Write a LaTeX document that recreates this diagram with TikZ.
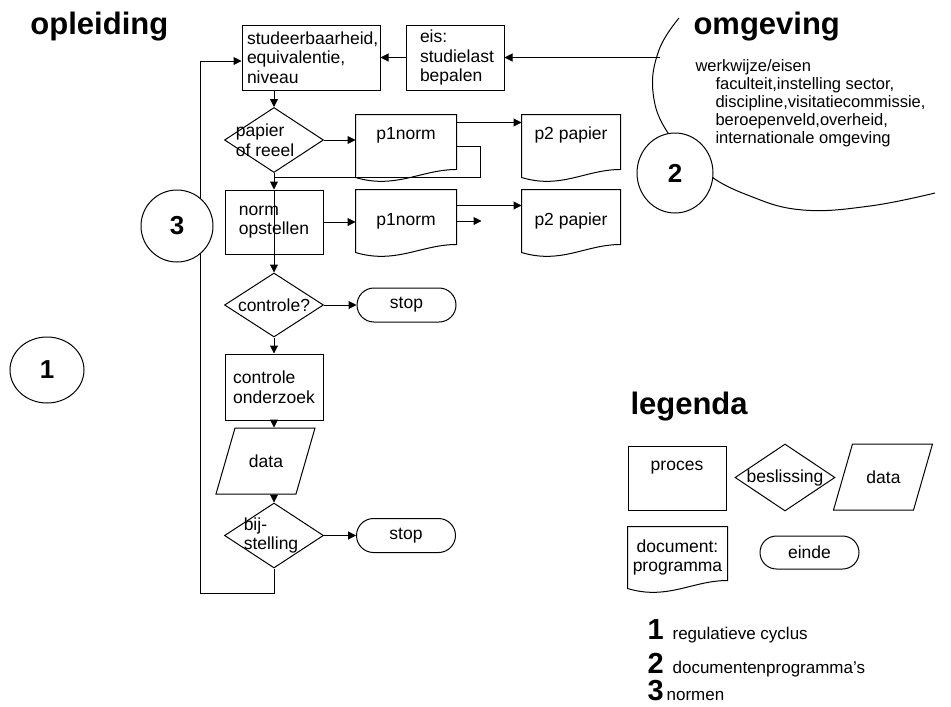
\documentclass[tikz,border=0pt]{standalone}
\usepackage{fontspec}
\setmainfont{Liberation Sans}
\usepackage{tikz}
\usetikzlibrary{shapes,arrows.meta,positioning,calc}

\newcommand{\docframe}[1]{%
  \draw (#1.north west) -- (#1.north east) -- ($(#1.south east)+(0,-8)$)
    .. controls +(-35,0) and +(40,12) .. (#1.south west) -- cycle;}
\newcommand{\dataframe}[1]{%
  \draw ($(#1)+(-31,-33)$) -- ($(#1)+(49,-33)$) -- ($(#1)+(30,33)$) -- ($(#1)+(-50,33)$) -- cycle;}

\begin{document}
\begin{tikzpicture}[
    x=1pt, y=-1pt, line width=1pt,
    txt/.style={font=\fontsize{17.5}{19.5}\selectfont},
    proc/.style={rectangle, draw, txt, minimum width=98pt, minimum height=65pt, align=left, inner sep=0pt},
    dec/.style={diamond, draw, minimum width=99pt, minimum height=65pt, inner sep=0pt},
    docbox/.style={rectangle, txt, minimum width=100pt, minimum height=62pt, align=center, inner sep=0pt},
    databox/.style={rectangle, txt, minimum width=60pt, minimum height=66pt, inner sep=0pt},
    term/.style={rounded rectangle, draw, txt, minimum width=99pt, minimum height=34pt, inner sep=0pt},
    numcirc/.style={ellipse, draw, fill=white, inner sep=0pt, font=\bfseries\fontsize{26}{26}\selectfont},
    heading/.style={anchor=base west, inner sep=0pt, font=\bfseries\fontsize{31}{31}\selectfont},
    arrow/.style={-{Triangle[length=8pt,width=8pt]}}
]
\useasboundingbox (0,0) rectangle (951,707);

\node[heading] (opl) at (30,34) {opleiding};
\node[heading] (omg) at (693,34) {omgeving};
\node[heading] (leg) at (630,414) {legenda};

\node[anchor=north west, align=left, inner sep=0pt, font=\fontsize{16.5}{18}\selectfont] (omglist) at (695,59)
  {werkwijze/eisen\\
   \hspace*{20pt}faculteit,instelling sector,\\
   \hspace*{20pt}discipline,visitatiecommissie,\\
   \hspace*{20pt}beroepenveld,overheid,\\
   \hspace*{20pt}internationale omgeving};

\node[proc, minimum width=138pt, text width=128pt] (stud) at (311,57.5) {studeerbaarheid,\\equivalentie,\\niveau};
\node[proc, text width=70pt] (eis) at (455,57.5) {eis:\\studielast\\bepalen};
\node[dec, label={[txt, align=left, xshift=-9pt]center:papier\\of reeel}] (pap) at (274,140) {};
\node[docbox] (p1a) at (406,146) {p1norm\\\strut};
\node[docbox, minimum width=98pt] (p2a) at (571,146) {p2 papier\\\strut};
\node[proc, minimum height=64pt] (norm) at (274,222) {norm\\opstellen};
\node[docbox] (p1b) at (406,221) {p1norm};
\node[docbox, minimum width=98pt] (p2b) at (571,221) {p2 papier};
\coordinate[right=25pt of p1b.east] (p1bend);
\node[dec, minimum height=64pt, label={[txt]center:controle?}] (ctl) at (274,305) {};
\node[term] (stop1) at (406.5,305) {stop\hspace{12pt}};
\node[proc, minimum height=66pt] (onz) at (274,387) {controle\\onderzoek};
\node[databox] (dat) at (266,461) {data};
\node[dec, label={[txt, align=left, xshift=-3pt]center:bij-\\stelling}] (bij) at (274,535.5) {};
\node[term] (stop2) at (406,535.5) {stop\hspace{29pt}};
\coordinate (loopc) at (200,593);
\coordinate (omgpt) at (660,57.5);

\node[proc, minimum height=64pt] (lproc) at (677,478) {proces\\\strut};
\node[dec, minimum width=100pt, minimum height=67pt, label={[txt]center:beslissing}] (ldec) at (785,477.5) {};
\node[databox] (ldat) at (883.5,477) {data};
\node[docbox, minimum width=99pt, minimum height=61pt] (ldoc) at (677.5,557.5) {document:\\programma};
\node[term, minimum height=33pt] (lend) at (809.5,552.5) {einde\hspace{7pt}};

\node[anchor=base west, inner sep=0pt] (leg1) at (647,639)
  {\bfseries\fontsize{29}{29}\selectfont 1\hspace{9pt}\mdseries\fontsize{17}{19}\selectfont regulatieve cyclus};
\node[anchor=base west, inner sep=0pt] (leg2) at (647,673)
  {\bfseries\fontsize{29}{29}\selectfont 2\hspace{9pt}\mdseries\fontsize{17}{19}\selectfont documentenprogramma's};
\node[anchor=base west, inner sep=0pt] (leg3) at (647,700)
  {\bfseries\fontsize{29}{29}\selectfont 3\hspace{3pt}\mdseries\fontsize{17}{19}\selectfont normen};

\docframe{p1a}
\docframe{p2a}
\docframe{p1b}
\docframe{p2b}
\docframe{ldoc}
\dataframe{dat}
\dataframe{ldat}

\draw[arrow] (omgpt) -- (eis);
\draw[arrow] (eis) -- (stud);
\draw[arrow] (stud.south -| pap.north) -- (pap.north);
\draw[arrow] (pap.east) -- (pap.east -| p1a.west);
\draw[arrow] ($(p1a.north east)+(0,8)$) coordinate (p1top) -- (p1top -| p2a.west);
\draw (p1a.east) -- ++(24,0) |- ($(pap.south)+(0,4)$);
\draw[arrow] (pap.south) -- (norm.north);
\draw[arrow] (norm.north) -- (ctl.north);
\draw[arrow] (norm.east) -- (norm.east -| p1b.west);
\draw[arrow] (p1b.east) -- (p1bend);
\draw[arrow] ($(p1b.north east)+(0,16)$) coordinate (p1btop) -- (p1btop -| p2b.west);
\draw[arrow] (ctl) -- (stop1);
\draw[arrow] (ctl) -- (onz);
\draw[arrow] (onz.south) -- (onz.south |- dat.north);
\draw[arrow] (bij.north |- dat.south) -- (bij.north);
\draw[arrow] (bij) -- (stop2);
\draw[arrow] (bij.south) |- (loopc) |- ($(stud.west)+(0,3.5)$);

\draw plot[smooth, tension=0.7] coordinates {(679,18) (659,50) (653,92) (668,133) (705,172) (750,196) (803,210) (870,206) (935,193)};

\node[numcirc, minimum width=74pt, minimum height=66pt] (c1) at (47,370) {1};
\node[numcirc, minimum width=76pt, minimum height=80pt] (c2) at (675,173) {2};
\node[numcirc, minimum width=72pt, minimum height=72pt] (c3) at (177,226) {3};

\end{tikzpicture}
\end{document}
